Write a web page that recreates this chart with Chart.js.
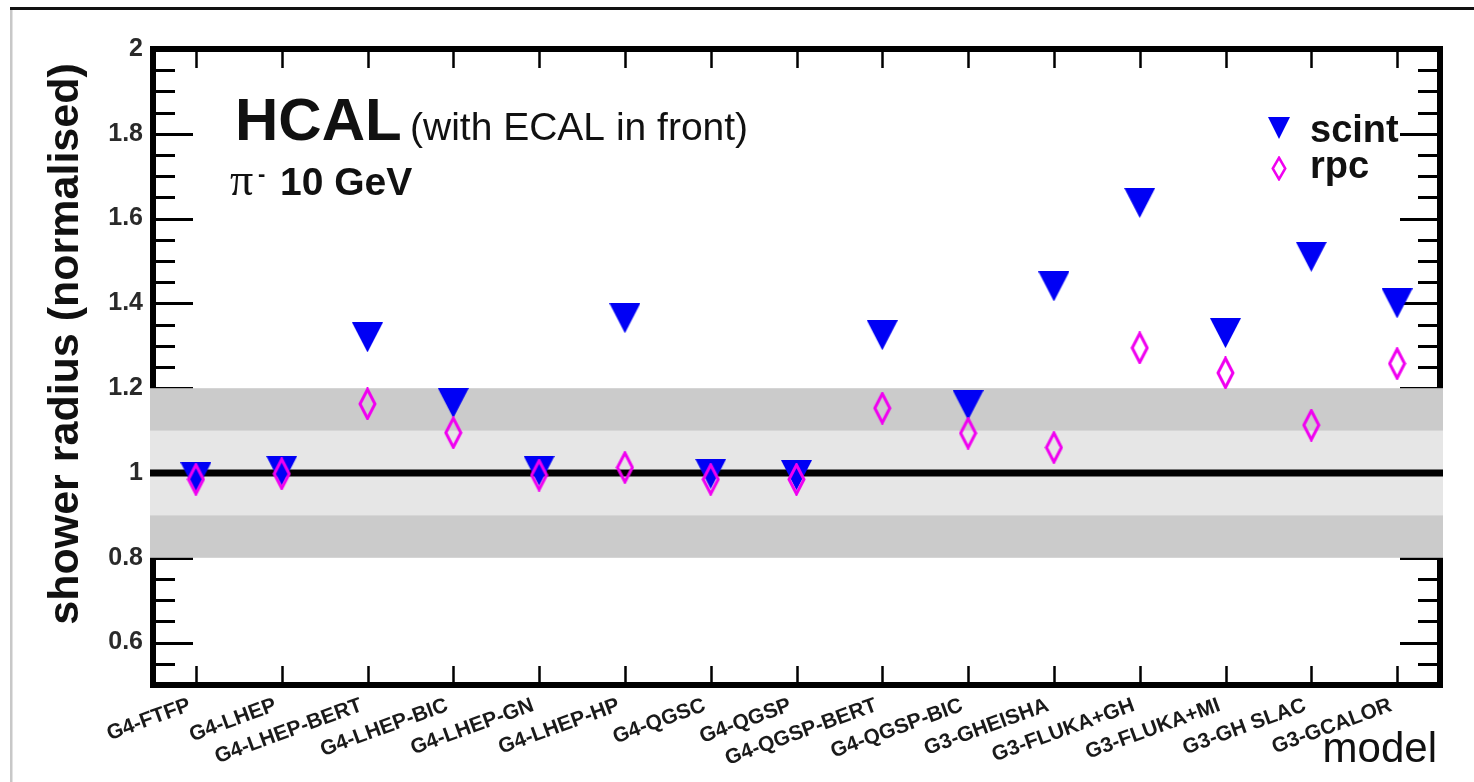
<!DOCTYPE html>
<html>
<head>
<meta charset="utf-8">
<script src="https://cdn.jsdelivr.net/npm/chart.js@4/dist/chart.umd.min.js"></script>
<style>
  html, body { margin: 0; padding: 0; background: #fff; overflow: hidden; }
  #wrap { position: relative; width: 1474px; height: 782px; }
</style>
</head>
<body>
<div id="wrap"><canvas id="c" width="1474" height="782"></canvas></div>
<script>
// Physics-list models (x categories)
const models = ['G4-FTFP', 'G4-LHEP', 'G4-LHEP-BERT', 'G4-LHEP-BIC', 'G4-LHEP-GN', 'G4-LHEP-HP',
  'G4-QGSC', 'G4-QGSP', 'G4-QGSP-BERT', 'G4-QGSP-BIC', 'G3-GHEISHA', 'G3-FLUKA+GH',
  'G3-FLUKA+MI', 'G3-GH SLAC', 'G3-GCALOR'];

// Normalised shower radius, scintillator readout
const scintRadius = [0.99, 1.005, 1.32, 1.165, 1.005, 1.365, 0.998, 0.995, 1.325, 1.16,
  1.44, 1.637, 1.33, 1.51, 1.40];

// Normalised shower radius, RPC readout
const rpcRadius = [0.985, 0.998, 1.163, 1.095, 0.995, 1.013, 0.985, 0.985, 1.153, 1.094,
  1.06, 1.295, 1.236, 1.113, 1.258];

// Y axis labelled ticks
const yTicks = [0.6, 0.8, 1, 1.2, 1.4, 1.6, 1.8, 2];

// Agreement bands around the reference level
const outerBand = [0.8, 1.2];
const innerBand = [0.9, 1.1];
const referenceLevel = 1;

const SANS = '"Liberation Sans", Arial, Helvetica, sans-serif';

function makeTriangle(w, h, color) {
  const c = document.createElement('canvas');
  c.width = w; c.height = h;
  const g = c.getContext('2d');
  g.fillStyle = color;
  g.beginPath();
  g.moveTo(0, 0); g.lineTo(w, 0); g.lineTo(w / 2, h);
  g.closePath(); g.fill();
  return c;
}

function makeDiamond(w, h, color, lw) {
  const c = document.createElement('canvas');
  c.width = w; c.height = h;
  const g = c.getContext('2d');
  const p = lw / 2 + 0.5;
  g.strokeStyle = color; g.lineWidth = lw; g.lineJoin = 'miter';
  g.beginPath();
  g.moveTo(w / 2, p); g.lineTo(w - p, h / 2); g.lineTo(w / 2, h - p); g.lineTo(p, h / 2);
  g.closePath(); g.stroke();
  return c;
}

const BLUE = '#0000f5';
const MAGENTA = '#f000f0';
const triMarker = makeTriangle(31, 30, BLUE);
const diaMarker = makeDiamond(19, 33, MAGENTA, 3);
const triLegend = makeTriangle(22, 22, BLUE);
const diaLegend = makeDiamond(16, 25, MAGENTA, 2.5);

const decor = {
  id: 'decor',
  beforeDraw(chart) {
    const ctx = chart.ctx;
    ctx.save();
    ctx.fillStyle = '#fff';
    ctx.fillRect(0, 0, chart.width, chart.height);
    // page frame edges
    ctx.fillStyle = '#111';
    ctx.fillRect(10, 7, chart.width - 10, 3);
    ctx.fillStyle = '#c8c8c8';
    ctx.fillRect(10, 10, 2.5, chart.height - 10);
    ctx.restore();
  },
  beforeDatasetsDraw(chart) {
    const { ctx, chartArea: a, scales: { x, y } } = chart;
    ctx.save();
    ctx.strokeStyle = '#000';
    // axis frame
    ctx.lineWidth = 6;
    ctx.strokeRect(a.left, a.top, a.right - a.left, a.bottom - a.top);
    // y ticks (major every 0.2, minor every 0.05) on both sides
    ctx.lineWidth = 3;
    const iMin = Math.round(y.min / 0.05), iMax = Math.round(y.max / 0.05);
    for (let i = iMin; i <= iMax; i++) {
      const py = Math.round(y.getPixelForValue(i * 0.05)) + 0.5;
      const len = (i % 4 === 0) ? 40 : 22;
      ctx.beginPath();
      ctx.moveTo(a.left, py); ctx.lineTo(a.left + len, py);
      ctx.moveTo(a.right, py); ctx.lineTo(a.right - len, py);
      ctx.stroke();
    }
    // x ticks at each category, top and bottom
    ctx.lineWidth = 2.5;
    models.forEach((m, i) => {
      const px = Math.round(x.getPixelForValue(i)) + 0.5;
      ctx.beginPath();
      ctx.moveTo(px, a.top); ctx.lineTo(px, a.top + 19);
      ctx.moveTo(px, a.bottom); ctx.lineTo(px, a.bottom - 19);
      ctx.stroke();
    });
    // agreement bands, drawn over the axis frame
    const bx = a.left - 3, bw = a.right - a.left + 6;
    ctx.fillStyle = '#cbcbcb';
    const o1 = y.getPixelForValue(outerBand[1]), o0 = y.getPixelForValue(outerBand[0]);
    ctx.fillRect(bx, o1, bw, o0 - o1);
    ctx.fillStyle = '#e6e6e6';
    const i1 = y.getPixelForValue(innerBand[1]), i0 = y.getPixelForValue(innerBand[0]);
    ctx.fillRect(bx, i1, bw, i0 - i1);
    // reference level
    ctx.fillStyle = '#000';
    const ry = y.getPixelForValue(referenceLevel);
    ctx.fillRect(bx, ry - 3.5, bw, 7);
    ctx.restore();
  },
  afterDraw(chart) {
    const ctx = chart.ctx;
    ctx.save();
    ctx.fillStyle = '#111';
    ctx.textBaseline = 'alphabetic';
    // header text
    ctx.textAlign = 'left';
    ctx.font = 'bold 60px ' + SANS;
    ctx.fillText('HCAL', 235, 140);
    ctx.font = '39px ' + SANS;
    ctx.fillText('(with ECAL in front)', 410, 140);
    ctx.font = '46px "Liberation Serif", "DejaVu Serif", serif';
    ctx.fillText('π', 230, 195);
    ctx.font = 'bold 22px ' + SANS;
    ctx.fillText('-', 258, 181);
    ctx.font = 'bold 39px ' + SANS;
    ctx.fillText('10 GeV', 280, 195);
    // legend
    ctx.drawImage(triLegend, 1268, 117);
    ctx.drawImage(diaLegend, 1271, 156);
    ctx.font = 'bold 38px ' + SANS;
    ctx.fillText('scint', 1310, 142);
    ctx.fillText('rpc', 1310, 178);
    // axis titles
    ctx.font = '42px ' + SANS;
    ctx.textAlign = 'right';
    ctx.fillText('model', 1437, 762);
    ctx.translate(78, 344);
    ctx.rotate(-Math.PI / 2);
    ctx.textAlign = 'center';
    ctx.font = 'bold 43px ' + SANS;
    ctx.fillText('shower radius (normalised)', 0, 0);
    ctx.restore();
  }
};

new Chart(document.getElementById('c'), {
  type: 'line',
  data: {
    labels: models,
    datasets: [
      { label: 'scint', data: scintRadius, showLine: false, pointStyle: triMarker,
        pointRadius: 15, clip: false, order: 1 },
      { label: 'rpc', data: rpcRadius, showLine: false, pointStyle: diaMarker,
        pointRadius: 15, clip: false, order: 0 }
    ]
  },
  options: {
    responsive: false,
    animation: false,
    devicePixelRatio: 1,
    layout: { padding: { left: 0, right: 34, top: 49, bottom: 0 } },
    plugins: { legend: { display: false }, tooltip: { enabled: false } },
    scales: {
      x: {
        type: 'category',
        offset: true,
        grid: { display: false, drawTicks: false },
        border: { display: false },
        ticks: {
          autoSkip: false, minRotation: 20, maxRotation: 20, padding: 8, labelOffset: -6,
          color: '#1a1a1a', font: { family: SANS, size: 21, weight: 'bold' }
        },
        afterFit(s) { s.height = 97; }
      },
      y: {
        min: 0.5, max: 2,
        grid: { display: false, drawTicks: false },
        border: { display: false },
        ticks: {
          padding: 10, color: '#2a2a2a',
          font: { family: SANS, size: 25, weight: 'bold' },
          callback: v => String(v)
        },
        afterBuildTicks(s) { s.ticks = yTicks.map(v => ({ value: v })); },
        afterFit(s) { s.width = 153; }
      }
    }
  },
  plugins: [decor]
});
</script>
</body>
</html>
